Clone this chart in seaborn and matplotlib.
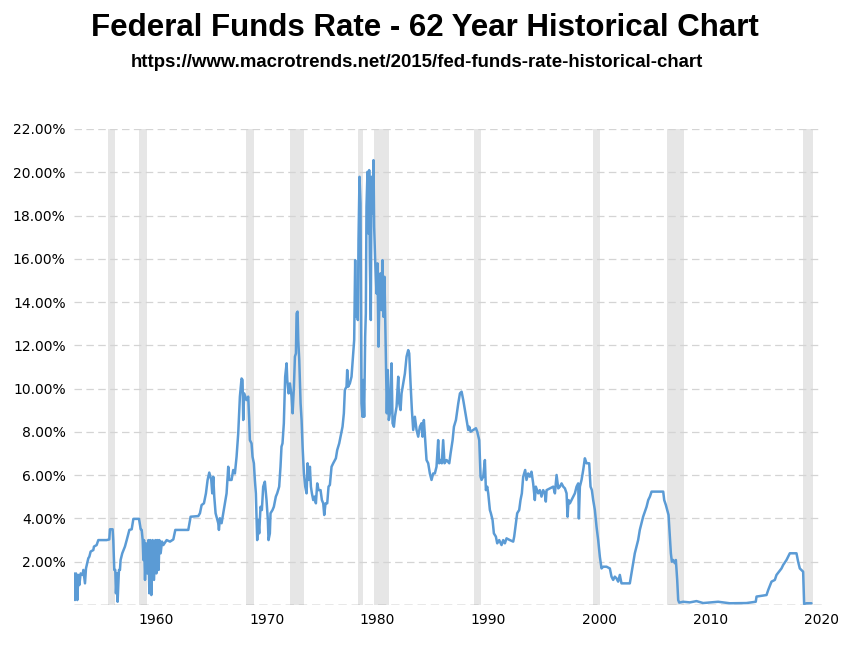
import matplotlib
matplotlib.use("Agg")
import matplotlib.pyplot as plt
import pandas as pd
import seaborn as sns

# values (year positions as shown on its x axis)
years_50s = [1952.64, 1952.73, 1952.82, 1952.94, 1953.03, 1953.12, 1953.24, 1953.42, 1953.48, 1953.63,
             1953.72, 1953.93, 1954.02, 1954.14, 1954.38, 1954.44, 1954.68, 1954.83, 1955.58, 1955.82,
             1955.88, 1956.12, 1956.18, 1956.27, 1956.36, 1956.42, 1956.51, 1956.57, 1956.69, 1956.78,
             1956.84, 1956.99, 1957.23, 1957.39, 1957.63, 1957.84, 1957.99, 1958.50, 1958.65, 1958.74,
             1958.83, 1958.89, 1958.95, 1959.04, 1959.13, 1959.25, 1959.34, 1959.43, 1959.52, 1959.61,
             1959.73, 1959.85, 1959.97]
rates_50s = [1.46, 0.23, 1.46, 0.23, 1.39, 0.92, 1.46, 1.39, 1.62, 1.00,
             1.69, 2.16, 2.23, 2.47, 2.54, 2.70, 2.77, 3.00, 3.00, 3.03,
             3.50, 3.50, 3.00, 1.62, 1.62, 0.54, 1.46, 0.15, 1.62, 1.62,
             2.08, 2.39, 2.70, 3.00, 3.47, 3.50, 3.98, 3.98, 3.50, 3.47,
             3.00, 2.08, 3.00, 1.16, 2.85, 1.46, 3.00, 0.54, 3.00, 0.46,
             3.00, 1.16, 3.00]

years_60s = [1960.06, 1960.15, 1960.27, 1960.33, 1960.45, 1960.57, 1960.69, 1960.99, 1961.29, 1961.59,
             1961.77, 1962.94, 1963.15, 1963.84, 1963.99, 1964.14, 1964.35, 1964.53, 1964.68, 1964.83,
             1965.01, 1965.10, 1965.19, 1965.28, 1965.40, 1965.64, 1965.70, 1965.79, 1965.94, 1966.09,
             1966.24, 1966.39, 1966.54, 1966.63, 1966.84, 1966.99, 1967.14, 1967.29, 1967.44, 1967.59,
             1967.74, 1967.83, 1967.89, 1967.98, 1968.19, 1968.34, 1968.43, 1968.49, 1968.64, 1968.73,
             1968.85, 1968.94, 1969.03, 1969.15, 1969.24, 1969.33, 1969.45, 1969.57, 1969.69, 1969.84,
             1969.99]
rates_60s = [1.46, 3.00, 1.62, 3.00, 2.39, 2.93, 2.77, 3.00, 2.93, 3.03,
             3.47, 3.47, 4.08, 4.11, 4.24, 4.62, 4.70, 5.16, 5.78, 6.12,
             5.78, 5.16, 5.93, 5.01, 4.24, 3.78, 3.47, 4.01, 3.78, 4.24,
             4.70, 5.16, 6.39, 5.78, 5.78, 6.24, 6.08, 6.85, 7.93, 9.63,
             10.47, 10.40, 8.55, 9.78, 9.47, 9.63, 8.55, 7.62, 7.47, 6.85,
             6.55, 5.78, 5.16, 3.00, 3.93, 3.31, 4.54, 4.39, 5.47, 5.70,
             4.85]

years_70s = [1970.11, 1970.17, 1970.29, 1970.35, 1970.53, 1970.65, 1970.83, 1970.95, 1971.13, 1971.25,
             1971.34, 1971.43, 1971.55, 1971.67, 1971.80, 1971.86, 1971.98, 1972.10, 1972.25, 1972.34,
             1972.46, 1972.55, 1972.64, 1972.70, 1972.79, 1972.85, 1972.94, 1973.06, 1973.15, 1973.24,
             1973.36, 1973.48, 1973.60, 1973.69, 1973.78, 1973.90, 1973.99, 1974.08, 1974.20, 1974.32,
             1974.44, 1974.56, 1974.68, 1974.86, 1974.98, 1975.10, 1975.19, 1975.31, 1975.46, 1975.58,
             1975.70, 1975.85, 1976.00, 1976.24, 1976.36, 1976.54, 1976.66, 1976.84, 1976.96, 1977.05,
             1977.20, 1977.26, 1977.35, 1977.50, 1977.65, 1977.80, 1977.89, 1977.98, 1978.04, 1978.13,
             1978.22, 1978.28, 1978.37, 1978.46, 1978.55, 1978.64, 1978.70, 1978.79, 1978.88, 1978.94,
             1979.00, 1979.09, 1979.18, 1979.24, 1979.30, 1979.39, 1979.45, 1979.54, 1979.63, 1979.69,
             1979.78, 1979.90, 1979.99]
rates_70s = [3.93, 3.00, 3.31, 4.24, 4.39, 4.54, 5.01, 5.16, 5.47, 6.39,
             7.32, 7.47, 8.39, 10.55, 11.17, 10.40, 9.78, 10.24, 9.63, 8.86,
             10.09, 11.48, 11.63, 13.48, 13.56, 12.25, 11.32, 9.32, 8.55, 7.32,
             6.08, 5.47, 5.16, 6.55, 5.78, 6.39, 5.47, 5.16, 4.85, 5.01,
             4.70, 5.62, 5.31, 5.31, 4.85, 4.70, 4.16, 4.70, 4.70, 5.47,
             5.55, 6.39, 6.55, 6.78, 7.16, 7.47, 7.78, 8.24, 8.86, 9.94,
             10.09, 10.86, 10.09, 10.24, 10.55, 11.63, 12.25, 15.94, 13.32, 14.09,
             13.17, 16.87, 19.79, 18.56, 9.32, 8.70, 10.40, 8.70, 12.40, 13.48,
             18.41, 20.02, 17.17, 20.10, 15.94, 13.17, 19.79, 18.10, 20.56, 17.48,
             15.94, 14.40, 15.79]

years_80s = [1980.08, 1980.17, 1980.26, 1980.35, 1980.44, 1980.53, 1980.62, 1980.68, 1980.74, 1980.83,
             1980.92, 1981.01, 1981.11, 1981.26, 1981.35, 1981.47, 1981.56, 1981.71, 1981.86, 1981.95,
             1982.07, 1982.16, 1982.31, 1982.46, 1982.61, 1982.76, 1982.85, 1982.97, 1983.09, 1983.21,
             1983.36, 1983.51, 1983.66, 1983.81, 1983.96, 1984.05, 1984.17, 1984.29, 1984.41, 1984.56,
             1984.71, 1984.86, 1985.01, 1985.16, 1985.31, 1985.46, 1985.55, 1985.67, 1985.79, 1985.91,
             1986.03, 1986.22, 1986.46, 1986.58, 1986.76, 1986.88, 1987.06, 1987.27, 1987.42, 1987.57,
             1987.72, 1987.87, 1988.02, 1988.17, 1988.26, 1988.38, 1988.62, 1988.86, 1988.98, 1989.16,
             1989.28, 1989.37, 1989.52, 1989.67, 1989.76, 1989.88, 1989.97]
rates_80s = [11.94, 14.25, 15.33, 13.63, 15.94, 13.32, 15.17, 13.48, 11.63, 8.86,
             10.86, 8.55, 8.86, 11.17, 8.40, 8.24, 8.70, 9.17, 10.55, 9.32,
             9.01, 9.78, 10.24, 10.70, 11.48, 11.78, 11.63, 10.24, 9.01, 8.09,
             8.70, 8.09, 7.78, 8.24, 8.40, 7.78, 8.55, 7.62, 6.70, 6.55,
             6.08, 5.78, 6.08, 6.08, 6.39, 7.62, 6.55, 6.70, 6.55, 7.62,
             6.55, 6.70, 6.55, 7.01, 7.62, 8.24, 8.55, 9.32, 9.78, 9.86,
             9.47, 9.01, 8.55, 8.09, 8.24, 8.01, 8.09, 8.17, 8.01, 7.62,
             5.93, 5.78, 5.93, 6.70, 5.31, 5.47, 5.16]

years_90s = [1990.12, 1990.21, 1990.36, 1990.48, 1990.66, 1990.78, 1990.96, 1991.17, 1991.32, 1991.47,
             1991.62, 1991.92, 1992.22, 1992.31, 1992.46, 1992.58, 1992.76, 1992.88, 1993.00, 1993.12,
             1993.30, 1993.42, 1993.57, 1993.72, 1993.87, 1994.02, 1994.17, 1994.26, 1994.47, 1994.62,
             1994.77, 1994.92, 1995.07, 1995.16, 1995.23, 1995.53, 1995.83, 1995.98, 1996.13, 1996.28,
             1996.43, 1996.58, 1996.73, 1996.88, 1997.03, 1997.12, 1997.21, 1997.33, 1997.48, 1997.63,
             1997.78, 1997.93, 1998.08, 1998.14, 1998.23, 1998.38, 1998.53, 1998.68, 1998.83, 1999.07,
             1999.19, 1999.31, 1999.43, 1999.58, 1999.73, 1999.88]
rates_90s = [4.39, 4.24, 3.93, 3.31, 3.16, 2.85, 3.00, 2.77, 3.00, 2.85,
             3.08, 3.00, 2.93, 3.16, 3.77, 4.24, 4.39, 4.85, 5.16, 5.93,
             6.24, 5.78, 6.08, 5.93, 6.16, 5.62, 4.85, 5.47, 5.16, 5.31,
             5.01, 5.31, 5.16, 4.78, 5.31, 5.39, 5.47, 5.16, 6.01, 5.39,
             5.47, 5.62, 5.47, 5.39, 5.16, 4.08, 4.85, 4.70, 4.85, 5.01,
             5.16, 5.47, 5.62, 4.00, 5.47, 5.78, 6.24, 6.78, 6.55, 6.55,
             5.47, 5.31, 4.85, 4.39, 3.62, 3.00]

years_00s = [2000.03, 2000.18, 2000.33, 2000.63, 2000.93, 2001.08, 2001.23, 2001.38, 2001.53, 2001.68,
             2001.83, 2001.98, 2002.73, 2002.88, 2003.03, 2003.18, 2003.33, 2003.48, 2003.63, 2003.78,
             2003.93, 2004.08, 2004.24, 2004.39, 2004.54, 2004.69, 2005.74, 2005.83, 2005.98, 2006.10,
             2006.22, 2006.34, 2006.43, 2006.52, 2006.64, 2006.79, 2006.88, 2007.00, 2007.09, 2007.18,
             2007.54, 2008.14, 2008.74, 2009.34]
rates_00s = [2.23, 1.69, 1.77, 1.77, 1.69, 1.31, 1.16, 1.31, 1.23, 1.08,
             1.39, 1.00, 1.00, 1.46, 1.93, 2.39, 2.70, 3.00, 3.47, 3.77,
             4.08, 4.31, 4.54, 4.85, 5.01, 5.24, 5.24, 4.85, 4.62, 4.39,
             4.16, 3.16, 2.39, 2.00, 2.08, 1.93, 2.08, 1.16, 0.23, 0.11,
             0.15, 0.12, 0.18, 0.09]

years_10s = [2010.69, 2011.74, 2013.24, 2014.08, 2014.15, 2015.05, 2015.20, 2015.50, 2015.80, 2015.95,
             2016.40, 2016.55, 2016.85, 2017.15, 2017.75, 2017.90, 2018.05, 2018.35, 2018.44, 2018.65,
             2019.10]
rates_10s = [0.15, 0.08, 0.09, 0.15, 0.39, 0.46, 0.69, 1.08, 1.16, 1.39,
             1.69, 1.85, 2.08, 2.39, 2.39, 2.00, 1.69, 1.54, 0.05, 0.08,
             0.08]

recession_start = [1955.70, 1958.50, 1968.10, 1972.10, 1978.20, 1979.70, 1988.70, 1999.40, 2006.10, 2018.30]
recession_end = [1956.30, 1959.20, 1968.90, 1973.40, 1978.70, 1981.00, 1989.30, 2000.00, 2007.60, 2019.20]

x_ticks = [1960, 1970, 1980, 1990, 2000, 2010, 2020]
y_ticks = [2, 4, 6, 8, 10, 12, 14, 16, 18, 20, 22]

df = pd.DataFrame({
    "year": years_50s + years_60s + years_70s + years_80s + years_90s + years_00s + years_10s,
    "rate": rates_50s + rates_60s + rates_70s + rates_80s + rates_90s + rates_00s + rates_10s,
})

sns.set_theme(style="white")
fig = plt.figure(figsize=(8.47, 6.5), dpi=100)
ax = fig.add_axes([74 / 847, 45 / 650, 748 / 847, 476 / 650])

for start, end in zip(recession_start, recession_end):
    ax.axvspan(start, end, color="#e6e6e6", lw=0, zorder=0)

for y in y_ticks:
    ax.axhline(y, color="#d4d4d4", lw=0.9, ls=(0, (6, 3.5)), zorder=1)
ax.axhline(0, color="#8c8c8c", lw=1.0, ls=(0, (6, 3.5)), zorder=1)

sns.lineplot(data=df, x="year", y="rate", ax=ax, color="#5b9bd5", lw=1.8,
             estimator=None, sort=False, zorder=3)

ax.set_xlim(1952.64, 2020.05)
ax.set_ylim(0, 22)
ax.set_xticks(x_ticks)
ax.set_xticklabels([str(t) for t in x_ticks])
ax.set_yticks(y_ticks)
ax.set_yticklabels([f"{t:.2f}%" for t in y_ticks])
ax.tick_params(length=0, labelsize=10, colors="#000000", pad=6)
ax.set_xlabel("")
ax.set_ylabel("")
ax.grid(False)
sns.despine(ax=ax, left=True, bottom=True)

fig.text(0.502, 0.957, "Federal Funds Rate - 62 Year Historical Chart", ha="center", va="center",
         fontsize=22.5, fontweight="bold", color="#000000",
         family=["Liberation Sans", "DejaVu Sans"])
fig.text(0.492, 0.904, "https://www.macrotrends.net/2015/fed-funds-rate-historical-chart",
         ha="center", va="center", fontsize=13.4, fontweight="bold", color="#000000",
         family=["Liberation Sans", "DejaVu Sans"])

fig.savefig("out.png", dpi=100)
